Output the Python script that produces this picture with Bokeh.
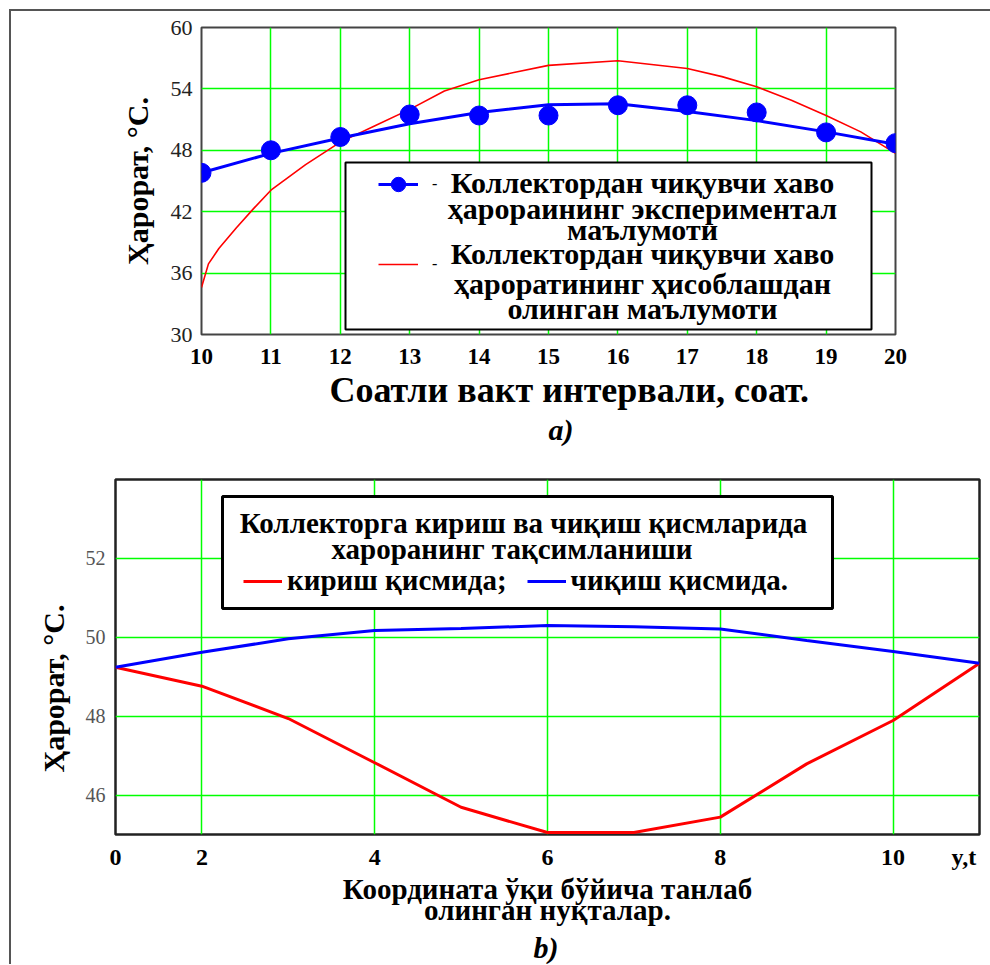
from bokeh.plotting import figure
from bokeh.models import Range1d, FixedTicker, Label, BoxAnnotation, Legend, LegendItem, Title
from bokeh.layouts import column
from bokeh.embed import file_html
from bokeh.resources import INLINE

# ---------------- data ----------------
# a) hourly outlet air temperature of the collector
hours = [10, 11, 12, 13, 14, 15, 16, 17, 18, 19, 20]
exp_temp = [45.8, 48.0, 49.3, 51.5, 51.4, 51.4, 52.4, 52.4, 51.7, 49.75, 48.7]
fit_temp = [45.8, 47.7, 49.2, 50.6, 51.7, 52.45, 52.55, 51.8, 50.9, 49.8, 48.6]
calc_hours = [10, 10.1, 10.25, 10.5, 10.75, 11, 11.5, 12, 12.5, 13, 13.5, 14, 14.5,
              15, 16, 17, 17.5, 18, 18.5, 19, 19.5, 20]
calc_temp = [34.6, 36.9, 38.4, 40.4, 42.3, 44.1, 46.6, 48.8, 50.4, 52.0, 53.8, 54.9, 55.6,
             56.3, 56.75, 56.0, 55.2, 54.2, 52.9, 51.4, 49.8, 47.7]
top_yticks = [30, 36, 42, 48, 54, 60]

# b) temperature distribution along the chosen points
points = [1, 2, 3, 4, 5, 6, 7, 8, 9, 10, 11]
inlet = [49.24, 48.76, 47.94, 46.82, 45.69, 45.05, 45.05, 45.44, 46.79, 47.89, 49.34]
outlet = [49.24, 49.62, 49.96, 50.17, 50.22, 50.30, 50.27, 50.21, 49.92, 49.64, 49.34]
bot_xticks = [1, 2, 4, 6, 8, 10, 10.82]
bot_xtick_labels = {1: "0", 10.82: "y,t"}
bot_xgrid = [2, 4, 6, 8, 10]
bot_yticks = [46, 48, 50, 52]

SERIF = "Liberation Serif"
GREEN = "#00ff00"

# helpers: reference pixel -> data coordinate (for text placement inside the frames)
def top_x(px):
    return 10 + (px - 201) * 10 / 694

def top_y(py):
    return 30 + (334 - py) * 30 / 307

def bot_x(px):
    return 1 + (px - 115) * 10 / 864

def bot_y(py):
    return 45 + (834 - py) * 9 / 355

# ---------------- top chart ----------------
p1 = figure(width=979, height=439, output_backend="svg", toolbar_location=None,
            x_range=Range1d(10, 20), y_range=Range1d(30, 60),
            min_border_left=190, min_border_right=95, min_border_top=16, min_border_bottom=116)
p1.frame_align = False
p1.outline_line_color = "#444444"
p1.outline_line_width = 2
p1.background_fill_color = "white"
p1.border_fill_color = "white"

p1.xaxis.ticker = FixedTicker(ticks=hours)
p1.yaxis.ticker = FixedTicker(ticks=top_yticks)
for ax in (p1.xaxis[0], p1.yaxis[0]):
    ax.axis_line_color = None
    ax.major_tick_line_color = None
    ax.minor_tick_line_color = None
    ax.major_label_text_font = SERIF
p1.xaxis.major_label_text_font_style = "bold"
p1.xaxis.major_label_text_font_size = "23px"
p1.xaxis.major_label_text_color = "black"
p1.xaxis.major_label_standoff = 8
p1.yaxis.major_label_text_font_size = "22px"
p1.yaxis.major_label_text_color = "#222222"
p1.yaxis.major_label_standoff = 3
p1.yaxis.axis_label = "Ҳарорат, °C."
p1.yaxis.axis_label_text_font = SERIF
p1.yaxis.axis_label_text_font_style = "bold"
p1.yaxis.axis_label_text_font_size = "30px"
p1.yaxis.axis_label_text_color = "black"
p1.yaxis.axis_label_standoff = 14

p1.xgrid.grid_line_color = GREEN
p1.ygrid.grid_line_color = GREEN
p1.xgrid.grid_line_width = 1.5
p1.ygrid.grid_line_width = 1.5

red_calc = p1.line(calc_hours, calc_temp, line_color="red", line_width=1.6)
blue_fit = p1.line(hours, fit_temp, line_color="blue", line_width=3)
blue_pts = p1.scatter(hours, exp_temp, size=19, marker="circle", fill_color="blue", line_color="blue")

# legend box
p1.add_layout(BoxAnnotation(left=top_x(345), right=top_x(871), top=top_y(162), bottom=top_y(329),
                            fill_color="white", fill_alpha=1, line_color="black", line_alpha=1,
                            line_width=2))
leg1 = Legend(items=[LegendItem(label="-", renderers=[blue_fit, blue_pts]),
                     LegendItem(label="-", renderers=[red_calc])],
              location=(177, 52), orientation="vertical", spacing=44,
              glyph_width=40, glyph_height=36, label_height=20, label_standoff=14,
              padding=0, margin=0, border_line_color=None, background_fill_alpha=0,
              label_text_font=SERIF, label_text_font_size="16px", label_text_color="black")
p1.add_layout(leg1, "center")

legend_lines_top = [
    ("Коллектордан чиқувчи хаво", 182),
    ("ҳарораининг экспериментал", 208),
    ("маълумоти", 229),
    ("Коллектордан чиқувчи хаво", 253),
    ("ҳароратининг ҳисоблашдан", 283),
    ("олинган маълумоти", 308),
]
for txt, py in legend_lines_top:
    p1.add_layout(Label(x=top_x(642), y=top_y(py), text=txt, text_align="center",
                        text_baseline="middle", text_font=SERIF, text_font_style="bold",
                        text_font_size="30px", text_color="black"))

p1.add_layout(Title(text="Соатли вакт интервали, соат.", align="left", offset=128, standoff=2,
                    text_font=SERIF, text_font_style="bold",
                    text_font_size="36px", text_color="black"), "below")
p1.add_layout(Title(text="a)", align="left", offset=347, standoff=0,
                    text_font=SERIF, text_font_style="bold italic", text_font_size="30px",
                    text_color="black"), "below")

# ---------------- bottom chart ----------------
p2 = figure(width=979, height=514, output_backend="svg", toolbar_location=None,
            x_range=Range1d(1, 11), y_range=Range1d(45, 54),
            min_border_left=104, min_border_right=11, min_border_top=29, min_border_bottom=130)
p2.frame_align = False
p2.outline_line_color = "#222222"
p2.outline_line_width = 2.5
p2.background_fill_color = "white"
p2.border_fill_color = "white"

p2.xaxis.ticker = FixedTicker(ticks=bot_xticks)
p2.xaxis.major_label_overrides = bot_xtick_labels
p2.yaxis.ticker = FixedTicker(ticks=bot_yticks)
p2.xgrid.ticker = FixedTicker(ticks=bot_xgrid)
for ax in (p2.xaxis[0], p2.yaxis[0]):
    ax.axis_line_color = None
    ax.major_tick_line_color = None
    ax.minor_tick_line_color = None
    ax.major_label_text_font = SERIF
p2.xaxis.major_label_text_font_style = "bold"
p2.xaxis.major_label_text_font_size = "24px"
p2.xaxis.major_label_text_color = "black"
p2.xaxis.major_label_standoff = 3
p2.yaxis.major_label_text_font_size = "20px"
p2.yaxis.major_label_text_color = "#555555"
p2.yaxis.major_label_standoff = 4
p2.xaxis.axis_label = "Координата ўқи бўйича танлаб\nолинган нуқталар."
p2.xaxis.axis_label_text_font = SERIF
p2.xaxis.axis_label_text_font_style = "bold"
p2.xaxis.axis_label_text_font_size = "29px"
p2.xaxis.axis_label_text_color = "black"
p2.xaxis.axis_label_text_line_height = 0.66
p2.xaxis.axis_label_standoff = 0

p2.xgrid.grid_line_color = GREEN
p2.ygrid.grid_line_color = GREEN
p2.xgrid.grid_line_width = 1.5
p2.ygrid.grid_line_width = 1.5

red_in = p2.line(points, inlet, line_color="red", line_width=3)
blue_out = p2.line(points, outlet, line_color="blue", line_width=3)

p2.add_layout(BoxAnnotation(left=bot_x(222), right=bot_x(832), top=bot_y(496), bottom=bot_y(608),
                            fill_color="white", fill_alpha=1, line_color="black", line_alpha=1,
                            line_width=3))
p2.add_layout(Label(x=bot_x(523), y=bot_y(522), text="Коллекторга кириш ва чиқиш қисмларида",
                    text_align="center", text_baseline="middle", text_font=SERIF,
                    text_font_style="bold", text_font_size="29px", text_color="black"))
p2.add_layout(Label(x=bot_x(515), y=bot_y(548), text="хароранинг  тақсимланиши",
                    text_align="center", text_baseline="middle", text_font=SERIF,
                    text_font_style="bold", text_font_size="29px", text_color="black"))
leg2 = Legend(items=[LegendItem(label="кириш қисмида;", renderers=[red_in]),
                     LegendItem(label="чиқиш қисмида.", renderers=[blue_out])],
              location=(128, 237), orientation="horizontal", spacing=20,
              glyph_width=39, glyph_height=20, label_height=20, label_standoff=5,
              padding=0, margin=0, border_line_color=None, background_fill_alpha=0,
              label_text_font=SERIF, label_text_font_style="bold", label_text_font_size="29px",
              label_text_color="black")
p2.add_layout(leg2, "center")

p2.add_layout(Title(text="b)", align="left", offset=418, standoff=0,
                    text_font=SERIF, text_font_style="bold italic", text_font_size="30px",
                    text_color="black"), "below")
p2.add_layout(Title(text="Ҳарорат, °C.", align="left", offset=62, standoff=26,
                    text_font=SERIF, text_font_style="bold", text_font_size="30px",
                    text_color="black"), "left")

layout = column(p1, p2, spacing=0,
                styles={"margin-left": "9px", "margin-top": "9px",
                        "border-left": "2px solid #555555", "border-top": "2px solid #555555"})

open("out.html", "w").write(file_html(layout, INLINE))
